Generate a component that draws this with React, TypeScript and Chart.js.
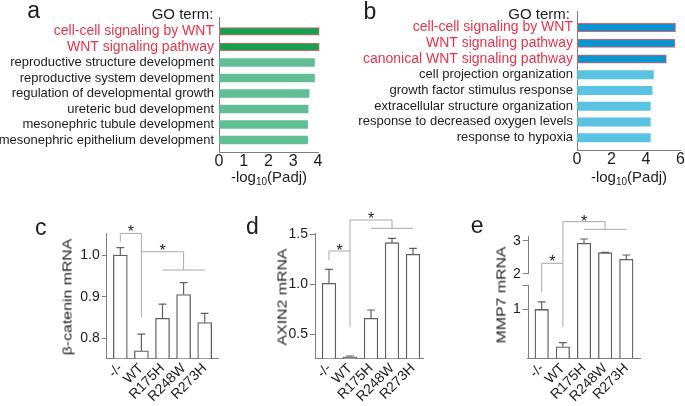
import React, { useEffect, useRef } from 'react';
import { Chart, registerables, LinearScale } from 'chart.js';

const FONT = "'Liberation Sans', Arial, Helvetica, sans-serif";
const RED = '#e8334a';
const INK = '#1c1c1c';
const AXIS = '#7d7d7d';
const EDGE = '#5e5e5e';
const BRACKET = '#a8a8a8';

// ---------------- Panel a ----------------
const aTerms = [
  'cell-cell signaling by WNT',
  'WNT signaling pathway',
  'reproductive structure development',
  'reproductive system development',
  'regulation of developmental growth',
  'ureteric bud development',
  'mesonephric tubule development',
  'mesonephric epithelium development',
];
const aValues = [4.05, 4.05, 3.86, 3.86, 3.64, 3.6, 3.58, 3.58];
const aHighlight = [true, true, false, false, false, false, false, false];
const aTicks = [0, 1, 2, 3, 4];

// ---------------- Panel b ----------------
const bTerms = [
  'cell-cell signaling by WNT',
  'WNT signaling pathway',
  'canonical WNT signaling pathway',
  'cell projection organization',
  'growth factor stimulus response',
  'extracellular structure organization',
  'response to decreased oxygen levels',
  'response to hypoxia',
];
const bValues = [5.71, 5.67, 5.18, 4.43, 4.35, 4.25, 4.25, 4.25];
const bHighlight = [true, true, true, false, false, false, false, false];
const bTicks = [0, 2, 4, 6];

// ---------------- Panels c, d, e ----------------
const genotypes = ['-/-', 'WT', 'R175H', 'R248W', 'R273H'];

const cMeans = [1.0, 0.77, 0.848, 0.905, 0.838];
const cErrors = [0.018, 0.04, 0.034, 0.029, 0.022];
const cTicks = [0.8, 0.9, 1.0];
const cBrackets = [
  [[0, 1.032], [0, 1.052], [1, 1.052], [1, 0.85]],
  [[1, 1.008], [3, 1.008], [3, 0.964]],
  [[2, 0.964], [4, 0.964]],
];
const cStars = [[0.5, 1.064], [2, 1.02]];

const dMeans = [1.01, 0.275, 0.66, 1.416, 1.3];
const dErrors = [0.14, 0.008, 0.083, 0.044, 0.06];
const dTicks = [0.5, 1.0, 1.5];
const dBrackets = [
  [[0, 1.243], [0, 1.333], [1, 1.333]],
  [[1, 0.576], [1, 1.643], [3, 1.643], [3, 1.56]],
  [[2, 1.56], [4, 1.56]],
];
const dStars = [[0.5, 1.376], [2, 1.693]];

const eMeans = [1.0, 0.237, 2.92, 2.64, 2.44];
const eErrors = [0.155, 0.083, 0.13, 0.01, 0.13];
const eTicks = [1, 1.5, 2, 3];
const eBreak = { lo: 1.5, hi: 2 };
const eBrackets = [
  [[0, 1.36], [0, 2.32], [1, 2.32]],
  [[1, 0.645], [1, 3.57], [3, 3.57], [3, 3.34]],
  [[2, 3.34], [4, 3.34]],
];
const eStars = [[0.5, 2.47], [2, 3.67]];

// ---------------- broken linear scale ----------------
const BREAK_FRAC = { lo: 0.5993, hi: 0.6893 };

class BrokenLinearScale extends LinearScale {
  static id = 'brokenLinear';
  static defaults = LinearScale.defaults;
  getPixelForValue(value: number) {
    if (value === null || value === undefined || isNaN(value)) return NaN;
    const lo = eBreak.lo, hi = eBreak.hi, fLo = BREAK_FRAC.lo, fHi = BREAK_FRAC.hi;
    const min = this.min, max = this.max;
    let d: number;
    if (value <= lo) d = ((value - min) / (lo - min)) * fLo;
    else if (value >= hi) d = fHi + ((value - hi) / (max - hi)) * (1 - fHi);
    else d = fLo + ((value - lo) / (hi - lo)) * (fHi - fLo);
    return this.getPixelForDecimal(d);
  }
  getValueForPixel(pixel: number) {
    const lo = eBreak.lo, hi = eBreak.hi, fLo = BREAK_FRAC.lo, fHi = BREAK_FRAC.hi;
    const d = this.getDecimalForPixel(pixel);
    const min = this.min, max = this.max;
    if (d <= fLo) return min + (d / fLo) * (lo - min);
    if (d >= fHi) return hi + ((d - fHi) / (1 - fHi)) * (max - hi);
    return lo + ((d - fLo) / (fHi - fLo)) * (hi - lo);
  }
}

Chart.register(...registerables, BrokenLinearScale);
Chart.defaults.font.family = FONT;

// ---------------- plugins ----------------
function errorBarPlugin(errors: number[]) {
  return {
    id: 'errorBars',
    afterDatasetsDraw(chart: any) {
      const { ctx } = chart;
      const xs = chart.scales.x;
      const ys = chart.scales.y;
      const pts = chart.data.datasets[0].data as { x: number; y: number }[];
      ctx.save();
      ctx.strokeStyle = EDGE;
      ctx.lineWidth = 1.2;
      pts.forEach((p, i) => {
        const x = xs.getPixelForValue(p.x);
        const y0 = ys.getPixelForValue(p.y);
        const y1 = ys.getPixelForValue(p.y + errors[i]);
        ctx.beginPath();
        ctx.moveTo(x, y0);
        ctx.lineTo(x, y1);
        ctx.moveTo(x - 3.9, y1);
        ctx.lineTo(x + 3.9, y1);
        ctx.stroke();
      });
      ctx.restore();
    },
  };
}

function signifPlugin(paths: number[][][], stars: number[][]) {
  return {
    id: 'signif',
    afterDraw(chart: any) {
      const { ctx } = chart;
      const xs = chart.scales.x;
      const ys = chart.scales.y;
      ctx.save();
      ctx.strokeStyle = BRACKET;
      ctx.lineWidth = 1;
      paths.forEach((path) => {
        ctx.beginPath();
        path.forEach(([vx, vy], k) => {
          const px = xs.getPixelForValue(vx);
          const py = ys.getPixelForValue(vy);
          if (k === 0) ctx.moveTo(px, py);
          else ctx.lineTo(px, py);
        });
        ctx.stroke();
      });
      ctx.fillStyle = INK;
      ctx.font = `16px ${FONT}`;
      ctx.textAlign = 'center';
      ctx.textBaseline = 'alphabetic';
      stars.forEach(([vx, vy]) => {
        ctx.fillText('*', xs.getPixelForValue(vx), ys.getPixelForValue(vy) + 0.55 * 16);
      });
      ctx.restore();
    },
  };
}

const brokenAxisPlugin = {
  id: 'brokenAxis',
  afterDraw(chart: any) {
    const { ctx, chartArea } = chart;
    const ys = chart.scales.y;
    const x = Math.round(chartArea.left) + 0.5;
    ctx.save();
    ctx.strokeStyle = AXIS;
    ctx.lineWidth = 1;
    [[ys.min, eBreak.lo], [eBreak.hi, ys.max]].forEach(([a, b]) => {
      ctx.beginPath();
      ctx.moveTo(x, ys.getPixelForValue(a));
      ctx.lineTo(x, ys.getPixelForValue(b));
      ctx.stroke();
    });
    ctx.restore();
  },
};

// ---------------- chart builders ----------------
const W = 685;
const H = 406;

type Box = { left: number; right: number; top: number; bottom: number };

function framePadding(box: Box) {
  // left / bottom space is taken by the axes themselves (see afterFit)
  return { left: 0, right: W - box.right, top: box.top, bottom: 0 };
}

function goChart(
  terms: string[],
  values: number[],
  highlight: boolean[],
  ticks: number[],
  colors: { dark: string; light: string },
  box: Box,
  idxRange: [number, number],
  thickness: number,
  tickLineHeight: number,
  labelPad: number,
) {
  return {
    type: 'bar',
    data: {
      datasets: [
        {
          data: values.map((v, i) => ({ x: v, y: i })),
          backgroundColor: highlight.map((h) => (h ? colors.dark : colors.light)),
          borderColor: highlight.map((h) => (h ? '#e2606c' : colors.light)),
          borderWidth: highlight.map((h) => (h ? 1 : 0)),
          borderSkipped: false,
          barThickness: thickness,
          clip: false,
        },
      ],
    },
    options: {
      indexAxis: 'y',
      responsive: false,
      animation: false,
      devicePixelRatio: 1,
      events: [],
      layout: { padding: framePadding(box), autoPadding: false },
      plugins: { legend: { display: false }, tooltip: { enabled: false } },
      scales: {
        x: {
          type: 'linear',
          position: 'bottom',
          min: ticks[0],
          max: ticks[ticks.length - 1],
          bounds: 'data',
          offset: false,
          afterBuildTicks: (s: any) => {
            s.ticks = ticks.map((v) => ({ value: v }));
          },
          afterFit: (s: any) => {
            s.height = H - box.bottom;
          },
          grid: { display: true, drawOnChartArea: false, drawTicks: false, offset: false },
          border: { display: true, color: AXIS, width: 1 },
          ticks: {
            autoSkip: false,
            maxRotation: 0,
            minRotation: 0,
            padding: 0,
            color: INK,
            font: { family: FONT, size: 16, lineHeight: tickLineHeight },
          },
        },
        y: {
          type: 'linear',
          position: 'left',
          reverse: true,
          min: idxRange[0],
          max: idxRange[1],
          bounds: 'data',
          offset: false,
          afterBuildTicks: (s: any) => {
            s.ticks = terms.map((_, i) => ({ value: i }));
          },
          afterFit: (s: any) => {
            s.width = box.left;
          },
          grid: { display: true, drawOnChartArea: false, drawTicks: false, offset: false },
          border: { display: true, color: AXIS, width: 1 },
          ticks: {
            autoSkip: false,
            padding: labelPad,
            callback: (v: number) => terms[Math.round(v)],
            color: (ctx: any) => (highlight[ctx.index] ? RED : INK),
            font: (ctx: any) => ({ family: FONT, size: highlight[ctx.index] ? 14 : 13 }),
          },
        },
      },
    },
  };
}

function mrnaChart(
  means: number[],
  errors: number[],
  ticks: number[],
  box: Box,
  idxRange: [number, number],
  valRange: [number, number],
  thickness: number,
  paths: number[][][],
  stars: number[][],
  broken: boolean,
) {
  const plugins: any[] = [errorBarPlugin(errors), signifPlugin(paths, stars)];
  if (broken) plugins.push(brokenAxisPlugin);
  return {
    type: 'bar',
    data: {
      datasets: [
        {
          data: means.map((v, i) => ({ x: i, y: v })),
          backgroundColor: '#ffffff',
          borderColor: EDGE,
          borderWidth: 1.3,
          barThickness: thickness,
          clip: 0,
        },
      ],
    },
    plugins,
    options: {
      responsive: false,
      animation: false,
      devicePixelRatio: 1,
      events: [],
      layout: { padding: framePadding(box), autoPadding: false },
      plugins: { legend: { display: false }, tooltip: { enabled: false } },
      scales: {
        x: {
          type: 'linear',
          position: 'bottom',
          min: idxRange[0],
          max: idxRange[1],
          bounds: 'data',
          offset: false,
          afterBuildTicks: (s: any) => {
            s.ticks = genotypes.map((_, i) => ({ value: i }));
          },
          afterFit: (s: any) => {
            s.height = H - box.bottom;
          },
          grid: { display: true, drawOnChartArea: false, drawTicks: false, offset: false },
          border: { display: true, color: AXIS, width: 1 },
          ticks: {
            autoSkip: false,
            minRotation: 45,
            maxRotation: 45,
            padding: 2,
            color: INK,
            callback: (v: number) => genotypes[Math.round(v)],
            font: { family: FONT, size: 14 },
          },
        },
        y: {
          type: broken ? 'brokenLinear' : 'linear',
          position: 'left',
          min: valRange[0],
          max: valRange[1],
          bounds: 'data',
          afterBuildTicks: (s: any) => {
            s.ticks = ticks.map((v) => ({ value: v }));
          },
          afterFit: (s: any) => {
            s.width = box.left;
          },
          grid: { display: true, drawOnChartArea: false, drawTicks: true, tickLength: 5, color: AXIS, lineWidth: 1 },
          border: { display: !broken, color: AXIS, width: 1 },
          ticks: {
            autoSkip: false,
            padding: 2,
            color: INK,
            callback: (v: number) => (broken ? (v === eBreak.lo ? '' : String(v)) : v.toFixed(1)),
            font: { family: FONT, size: 14 },
          },
        },
      },
    },
  };
}

const makeA = () =>
  goChart(aTerms, aValues, aHighlight, aTicks, { dark: '#17a04f', light: '#62bf95' },
    { left: 219, right: 318, top: 17, bottom: 152 }, [-0.935, 7.774], 7.6, 1.2, 5);
const makeB = () =>
  goChart(bTerms, bValues, bHighlight, bTicks, { dark: '#0894cf', light: '#5ac2e2' },
    { left: 577, right: 681, top: 10, bottom: 150.7 }, [-0.99, 7.827], 8.3, 1.05, 4);
const makeC = () =>
  mrnaChart(cMeans, cErrors, cTicks, { left: 106.7, right: 218.3, top: 233, bottom: 358.3 },
    [-0.645, 4.645], [0.752, 1.053], 14, cBrackets, cStars, false);
const makeD = () =>
  mrnaChart(dMeans, dErrors, dTicks, { left: 315, right: 423.3, top: 233.3, bottom: 358.3 },
    [-0.667, 4.49], [0.26, 1.51], 13.7, dBrackets, dStars, false);
const makeE = () =>
  mrnaChart(eMeans, eErrors, eTicks, { left: 527.7, right: 640, top: 236, bottom: 358.3 },
    [-0.662, 4.648], [0, 3.14], 13.5, eBrackets, eStars, true);

function ChartCanvas({ make }: { make: () => any }) {
  const ref = useRef<HTMLCanvasElement>(null);
  useEffect(() => {
    const chart = new Chart(ref.current as HTMLCanvasElement, make());
    return () => chart.destroy();
  }, []);
  return (
    <canvas
      ref={ref}
      width={W}
      height={H}
      style={{ position: 'absolute', left: 0, top: 0, width: W, height: H }}
    />
  );
}

const textBase: React.CSSProperties = {
  position: 'absolute',
  whiteSpace: 'nowrap',
  lineHeight: 1,
  color: INK,
  fontFamily: FONT,
};

function Letter({ ch, left, top }: { ch: string; left: number; top: number }) {
  return <div style={{ ...textBase, left, top, fontSize: 23 }}>{ch}</div>;
}

function LogTitle({ cx, top }: { cx: number; top: number }) {
  return (
    <div style={{ ...textBase, left: cx, top, fontSize: 15, transform: 'translateX(-50%)' }}>
      -log<span style={{ fontSize: 10, position: 'relative', top: 3 }}>10</span>(Padj)
    </div>
  );
}

function YTitle({ text, cx, cy }: { text: string; cx: number; cy: number }) {
  return (
    <div
      style={{
        ...textBase,
        left: cx,
        top: cy,
        fontSize: 13,
        transform: 'translate(-50%, -50%) rotate(-90deg) scaleX(1.22)',
      }}
    >
      {text}
    </div>
  );
}

export default function App() {
  return (
    <div
      style={{
        position: 'absolute',
        left: 0,
        top: 0,
        width: W,
        height: H,
        background: '#ffffff',
        overflow: 'hidden',
        fontFamily: FONT,
      }}
    >
      <ChartCanvas make={makeA} />
      <ChartCanvas make={makeB} />
      <ChartCanvas make={makeC} />
      <ChartCanvas make={makeD} />
      <ChartCanvas make={makeE} />

      <Letter ch="a" left={27.3} top={-1.2} />
      <Letter ch="b" left={363.6} top={-0.5} />
      <Letter ch="c" left={35} top={215.5} />
      <Letter ch="d" left={245.9} top={214.8} />
      <Letter ch="e" left={470.8} top={213.8} />

      <div style={{ ...textBase, right: W - 213.3, top: 5.6, fontSize: 15 }}>GO term:</div>
      <div style={{ ...textBase, right: W - 570, top: 5.6, fontSize: 15 }}>GO term:</div>

      <LogTitle cx={269} top={169.1} />
      <LogTitle cx={629} top={169.1} />

      <YTitle text="β-catenin mRNA" cx={67.2} cy={297} />
      <YTitle text="AXIN2 mRNA" cx={282.2} cy={296.7} />
      <YTitle text="MMP7 mRNA" cx={500.5} cy={295} />
    </div>
  );
}
